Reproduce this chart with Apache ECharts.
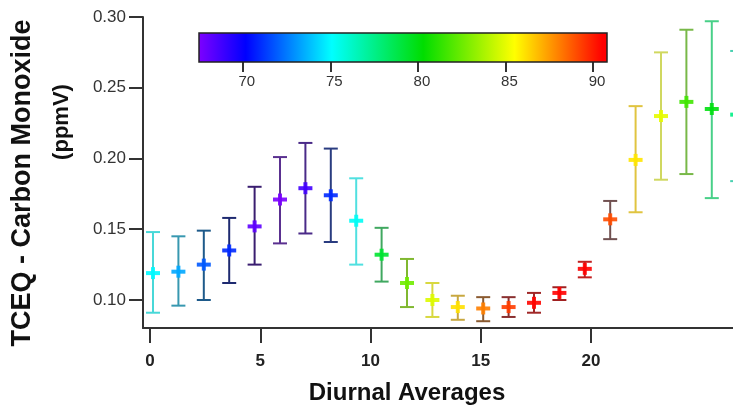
<!DOCTYPE html>
<html>
<head>
<meta charset="utf-8">
<style>html,body{margin:0;padding:0;background:#fff;}#c{width:733px;height:413px;}</style>
<script src="https://cdn.jsdelivr.net/npm/echarts@6/dist/echarts.min.js"></script>
</head>
<body>
<div id="c"></div>
<script>
// ---- data ----
const hours   = [0,1,2,3,4,5,6,7,8,9,10,11,12,13,14,15,16,17,18,19,20,21,22,23];
const coMean  = [0.119,0.120,0.125,0.135,0.152,0.171,0.179,0.174,0.156,0.132,0.112,0.100,0.095,0.094,0.095,0.098,0.105,0.122,0.157,0.199,0.230,0.240,0.235,0.231];
const coLow   = [0.091,0.096,0.100,0.112,0.125,0.140,0.147,0.141,0.125,0.113,0.095,0.088,0.086,0.085,0.088,0.091,0.100,0.116,0.143,0.162,0.185,0.189,0.172,0.184];
const coHigh  = [0.148,0.145,0.149,0.158,0.180,0.201,0.211,0.207,0.186,0.151,0.129,0.112,0.103,0.102,0.102,0.105,0.109,0.127,0.170,0.237,0.275,0.291,0.297,0.276];
const temperature = [75.0,73.4,71.9,71.0,68.2,67.6,68.8,71.0,75.3,79.3,82.6,84.8,86.1,88.0,89.3,90.4,90.5,90.5,89.0,86.0,85.0,81.6,80.0,77.6];
const xTicks  = [0,5,10,15,20];
const yTicks  = [0.10,0.15,0.20,0.25,0.30];
const cbarRange = [67.5,90.8];
const cbarTicks = [70,75,80,85,90];

// ---- styles ----
const cbarStops = [[67.5,'#7f00ff'],[70.2,'#0000ff'],[75.1,'#00ffff'],[80.3,'#00dd00'],[85.5,'#ffff00'],[88.0,'#ff8000'],[90.5,'#ff0000'],[90.8,'#ff0000']];
const barColors = ['#48d8d8','#3898b0','#1e5a8a','#1e2a70','#3a1e70','#5a3090','#4a2a88','#2a3c80',
  '#50e0e0','#40a860','#80b830','#d8d840','#c8a840','#8a5a30','#8a3030','#a02828',
  '#a02020','#c02020','#705050','#e0c440','#d0d860','#78b848','#48d088','#48d0b0'];
const FONT = '"Liberation Sans", Arial, sans-serif';

function hex2rgb(h){return [parseInt(h.slice(1,3),16),parseInt(h.slice(3,5),16),parseInt(h.slice(5,7),16)];}
function colorAt(v){
  for(let i=0;i<cbarStops.length-1;i++){
    const a=cbarStops[i], b=cbarStops[i+1];
    if(v<=b[0]){
      const t=Math.max(0,(v-a[0])/(b[0]-a[0]));
      const ca=hex2rgb(a[1]), cb=hex2rgb(b[1]);
      return 'rgb('+ca.map((c,k)=>Math.round(c+(cb[k]-c)*t)).join(',')+')';
    }
  }
  return cbarStops[cbarStops.length-1][1];
}
const N=80, vmColors=[];
for(let i=0;i<=N;i++){vmColors.push(colorAt(cbarRange[0]+(cbarRange[1]-cbarRange[0])*i/N));}
const span=cbarRange[1]-cbarRange[0];
const gradStops=cbarStops.map(s=>({offset:(s[0]-cbarRange[0])/span,color:s[1]}));

const pointData = hours.map((h,i)=>[h,coMean[i],coLow[i],coHigh[i],temperature[i]]);

const chart = echarts.init(document.getElementById('c'));
chart.setOption({
  animation:false,
  backgroundColor:'#fff',
  grid:[
    {left:143, top:17, width:590, height:311},
    {left:199, top:33, width:408, height:29}
  ],
  xAxis:[
    {type:'value', gridIndex:0, min:-0.318, max:26.44, position:'bottom',
     axisLine:{show:true,onZero:false,lineStyle:{color:'#333',width:2}},
     axisTick:{show:true,customValues:xTicks,length:15,lineStyle:{color:'#333',width:2}},
     axisLabel:{customValues:xTicks,margin:25,fontFamily:FONT,fontSize:17,fontWeight:'bold',color:'#222'},
     splitLine:{show:false}},
    {type:'value', gridIndex:0, min:-0.394, max:22.835, show:false},
    {type:'value', gridIndex:1, min:cbarRange[0], max:cbarRange[1], position:'bottom',
     axisLine:{show:false},
     axisTick:{show:true,customValues:cbarTicks,length:10,lineStyle:{color:'#333',width:2}},
     axisLabel:{customValues:cbarTicks,margin:12,fontFamily:FONT,fontSize:15,color:'#333',padding:[0,0,0,8]},
     splitLine:{show:false}}
  ],
  yAxis:[
    {type:'value', gridIndex:0, min:0.0802, max:0.30,
     axisLine:{show:true,onZero:false,lineStyle:{color:'#333',width:2}},
     axisTick:{show:true,customValues:yTicks,length:14,lineStyle:{color:'#333',width:2}},
     axisLabel:{customValues:yTicks,margin:17,fontFamily:FONT,fontSize:17,color:'#333',formatter:v=>v.toFixed(2)},
     splitLine:{show:false}},
    {type:'value', gridIndex:1, min:0, max:1, show:false}
  ],
  visualMap:{type:'continuous', show:false, min:cbarRange[0], max:cbarRange[1], dimension:4, seriesIndex:0,
    inRange:{color:vmColors}},
  series:[
    {type:'custom', xAxisIndex:1, yAxisIndex:0, data:pointData, clip:false,
     renderItem:function(params,api){
       const x=api.value(0);
       const pm=api.coord([x,api.value(1)]);
       const pl=api.coord([x,api.value(2)]);
       const ph=api.coord([x,api.value(3)]);
       const bc=barColors[params.dataIndex];
       const mc=api.visual('color');
       const cw=7;
       return {type:'group',children:[
         {type:'line',shape:{x1:pm[0],y1:ph[1],x2:pm[0],y2:pl[1]},style:{stroke:bc,lineWidth:2}},
         {type:'line',shape:{x1:pm[0]-cw,y1:ph[1],x2:pm[0]+cw,y2:ph[1]},style:{stroke:bc,lineWidth:2}},
         {type:'line',shape:{x1:pm[0]-cw,y1:pl[1],x2:pm[0]+cw,y2:pl[1]},style:{stroke:bc,lineWidth:2}},
         {type:'rect',shape:{x:pm[0]-7,y:pm[1]-2,width:14,height:4},style:{fill:mc,opacity:0.9}},
         {type:'rect',shape:{x:pm[0]-2,y:pm[1]-6,width:4,height:12},style:{fill:mc,opacity:0.9}}
       ]};
     }},
    {type:'custom', xAxisIndex:2, yAxisIndex:1, data:[[cbarRange[0],cbarRange[1]]], silent:true,
     renderItem:function(params,api){
       const p0=api.coord([api.value(0),1]);
       const p1=api.coord([api.value(1),0]);
       return {type:'rect',shape:{x:p0[0],y:p0[1],width:p1[0]-p0[0],height:p1[1]-p0[1]},
         style:{fill:new echarts.graphic.LinearGradient(0,0,1,0,gradStops),stroke:'#222',lineWidth:1.5}};
     }}
  ],
  graphic:[
    {type:'text', x:407, y:393, style:{text:'Diurnal Averages',font:'bold 24px '+FONT,fill:'#111',textAlign:'center',textVerticalAlign:'middle'}},
    {type:'text', x:23, y:183, rotation:Math.PI/2, style:{text:'TCEQ - Carbon Monoxide',font:'bold 27px '+FONT,fill:'#111',textAlign:'center',textVerticalAlign:'middle'}},
    {type:'text', x:62, y:122, rotation:Math.PI/2, style:{text:'(ppmV)',font:'bold 22px '+FONT,fill:'#111',textAlign:'center',textVerticalAlign:'middle'}}
  ]
});
</script>
</body>
</html>
